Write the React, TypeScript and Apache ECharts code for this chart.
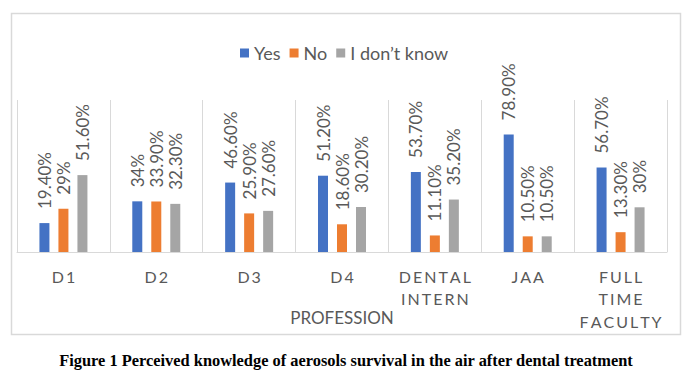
import React, { useEffect, useRef } from "react";
import * as echarts from "echarts";

const categories = ["D1", "D2", "D3", "D4", "DENTAL\nINTERN", "JAA", "FULL\nTIME\nFACULTY"];
const seriesNames = ["Yes", "No", "I don\u2019t know"];
const yesValues = [19.4, 34, 46.6, 51.2, 53.7, 78.9, 56.7];
const noValues = [29, 33.9, 25.9, 18.6, 11.1, 10.5, 13.3];
const dontKnowValues = [51.6, 32.3, 27.6, 30.2, 35.2, 10.5, 30];
const colors = ["#4472C4", "#ED7D31", "#A5A5A5"];
const axisName = "PROFESSION";
const caption = "Figure 1 Perceived knowledge of aerosols survival in the air after dental treatment";

const fmtPct = (v: number) => (Number.isInteger(v) ? `${v}%` : `${v.toFixed(2)}%`);
const spaced = (s: string) =>
  s
    .split("\n")
    .map((line) => line.split("").join("\u2009"))
    .join("\n");

export default function App() {
  const ref = useRef<HTMLDivElement>(null);
  useEffect(() => {
    document.body.style.margin = "0";
    const chart = echarts.init(ref.current!, undefined, { renderer: "svg" });
    const font = "Lato, 'Open Sans', sans-serif";
    const allValues = [yesValues, noValues, dontKnowValues];
    chart.setOption({
      animation: false,
      backgroundColor: "#ffffff",
      textStyle: { fontFamily: font },
      legend: {
        top: 39,
        left: 235,
        icon: "rect",
        itemWidth: 9,
        itemHeight: 9,
        itemGap: 9,
        textStyle: { fontSize: 18, color: "#595959", fontFamily: font },
        data: seriesNames,
      },
      grid: { left: 17, right: 29, top: 100, bottom: 122, containLabel: false },
      xAxis: {
        type: "category",
        data: categories,
        boundaryGap: true,
        name: axisName,
        nameLocation: "middle",
        nameGap: 57,
        nameMoveOverlap: false,
        nameTextStyle: { fontSize: 17, color: "#595959", fontFamily: font },
        axisLine: { show: true, lineStyle: { color: "#d9d9d9", width: 1 } },
        axisTick: { show: false },
        splitLine: { show: true, showMinLine: true, showMaxLine: true, lineStyle: { color: "#d9d9d9", width: 1 } },
        axisLabel: {
          interval: 0,
          margin: 13,
          fontSize: 16,
          lineHeight: 22.5,
          color: "#595959",
          fontFamily: font,
          formatter: (v: string) => spaced(v),
        },
      },
      yAxis: {
        type: "value",
        min: 0,
        max: 102,
        show: false,
        splitLine: { show: false },
      },
      series: allValues.map((vals, i) => ({
        name: seriesNames[i],
        type: "bar",
        data: vals,
        barWidth: 10,
        barGap: "90%",
        itemStyle: { color: colors[i] },
        label: {
          show: true,
          position: "top",
          rotate: 90,
          align: "left",
          verticalAlign: "middle",
          distance: 14,
          fontSize: 17,
          color: "#595959",
          fontFamily: font,
          formatter: (p: any) => fmtPct(p.value),
        },
      })),
      graphic: [
        {
          type: "rect",
          shape: { x: 11.5, y: 13.5, width: 669, height: 321 },
          style: { fill: "none", stroke: "#d9d9d9", lineWidth: 1.5 },
          silent: true,
        },
        {
          type: "text",
          x: 346,
          y: 360,
          style: {
            text: caption,
            fontFamily: "'Liberation Serif', 'Times New Roman', serif",
            fontWeight: "bold",
            fontSize: 16.4,
            fill: "#000000",
            align: "center",
            verticalAlign: "middle",
          },
        },
      ],
    });
    return () => chart.dispose();
  }, []);
  return (
    <div
      ref={ref}
      style={{ position: "absolute", left: 0, top: 0, width: 696, height: 374, background: "#fff" }}
    />
  );
}
